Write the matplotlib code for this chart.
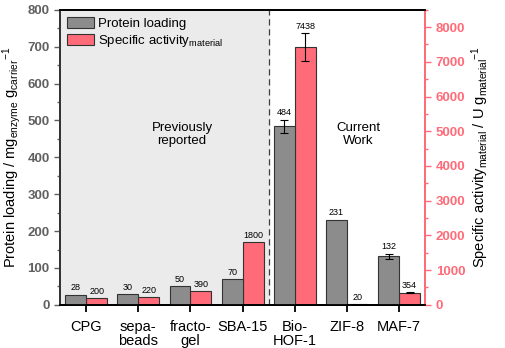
import numpy as np
import matplotlib.pyplot as plt
from matplotlib.ticker import MultipleLocator

plt.rcParams["font.family"] = ["Liberation Sans", "DejaVu Sans"]
plt.rcParams["mathtext.fontset"] = "custom"
plt.rcParams["mathtext.rm"] = "Liberation Sans"
plt.rcParams["mathtext.it"] = "Liberation Sans:italic"

# carriers and measured values
carriers = ["CPG", "sepa-\nbeads", "fracto-\ngel", "SBA-15", "Bio-\nHOF-1", "ZIF-8", "MAF-7"]
loading = [28, 30, 50, 70, 484, 231, 132]
loading_err = [0, 0, 0, 0, 18, 0, 7]
activity = [200, 220, 390, 1800, 7438, 20, 354]
activity_err = [0, 0, 0, 0, 400, 0, 25]

grey = "#8c8c8c"
red = "#ff6b78"
tickgrey = "#606060"

fig = plt.figure(figsize=(5.05, 3.48), dpi=100)
ax = fig.add_axes([0.119, 0.124, 0.723, 0.848])
ax2 = ax.twinx()

x = np.arange(len(carriers))
w = 0.4

# shaded literature region sits on the lower (twin) axes
ax2.axvspan(-0.5, 3.5, color="#ebebeb", zorder=0)
ax2.axvline(3.5, color="#404040", ls=(0, (5, 3)), lw=0.9, zorder=1)

b1 = ax.bar(x - w/2, loading, w, color=grey, edgecolor="#333333", lw=0.8, zorder=2,
            label="Protein loading")
e1 = [e if e > 0 else np.nan for e in loading_err]
ax.errorbar(x - w/2, loading, yerr=e1, fmt="none", ecolor="black", elinewidth=0.8,
            capsize=3, capthick=0.8, zorder=3)
b2 = ax2.bar(x + w/2, activity, w, color=red, edgecolor="#333333", lw=0.8, zorder=2,
             label="Specific activity$_{\\mathrm{material}}$")
e2 = [e if e > 0 else np.nan for e in activity_err]
ax2.errorbar(x + w/2, activity, yerr=e2, fmt="none", ecolor="black", elinewidth=0.8,
             capsize=3, capthick=0.8, zorder=3)

for xi, v, e in zip(x - w/2, loading, loading_err):
    ax.text(xi, v + e + 6, str(v), ha="center", va="bottom", fontsize=6.5)
for xi, v, e in zip(x + w/2, activity, activity_err):
    ax2.text(xi, v + e + 60, str(v), ha="center", va="bottom", fontsize=6.5)

ax.set_xlim(-0.5, 6.5)
ax.set_ylim(0, 800)
ax2.set_ylim(0, 8500)
ax.set_xticks(x)
ax.set_xticklabels(carriers, fontsize=10.5, linespacing=0.95)
ax.tick_params(axis="x", length=5, width=1.3, direction="out", pad=6)

ax.yaxis.set_major_locator(MultipleLocator(100))
ax.yaxis.set_minor_locator(MultipleLocator(50))
ax.tick_params(axis="y", which="major", length=4, width=1, colors=tickgrey, labelsize=9.5)
ax.tick_params(axis="y", which="minor", length=2, width=1, colors=tickgrey)
for lab in ax.get_yticklabels():
    lab.set_fontweight("bold")

ax2.yaxis.set_major_locator(MultipleLocator(1000))
ax2.yaxis.set_minor_locator(MultipleLocator(500))
ax2.tick_params(axis="y", which="major", length=4, width=1, colors=red, labelsize=9.5)
ax2.tick_params(axis="y", which="minor", length=2, width=1, colors=red)
for lab in ax2.get_yticklabels():
    lab.set_fontweight("bold")

for a in (ax, ax2):
    a.spines["left"].set_color("#333333")
    a.spines["right"].set_color(red)
    a.spines["top"].set_color("black")
    a.spines["bottom"].set_color("black")
    for s in a.spines.values():
        s.set_linewidth(1.3)

ax.set_ylabel("Protein loading / mg$_{\\mathrm{enzyme}}$ g$_{\\mathrm{carrier}}$$^{\\mathrm{-1}}$",
              fontsize=10.5, labelpad=3)
ax2.set_ylabel("Specific activity$_{\\mathrm{material}}$ / U g$_{\\mathrm{material}}$$^{\\mathrm{-1}}$",
               fontsize=10.5, labelpad=3)

ax.text(1.84, 461, "Previously\nreported", ha="center", va="center", fontsize=9.5, linespacing=1.1)
ax.text(5.22, 461, "Current\nWork", ha="center", va="center", fontsize=9.5, linespacing=1.1)

ax.legend(handles=[b1, b2], loc="upper left", frameon=False, fontsize=9.5,
          handlelength=2.0, handleheight=0.95, borderaxespad=0.25, labelspacing=0.2,
          handletextpad=0.3, borderpad=0.3)

ax.set_zorder(ax2.get_zorder() + 1)
ax.patch.set_visible(False)

fig.savefig("out.png", dpi=100)
